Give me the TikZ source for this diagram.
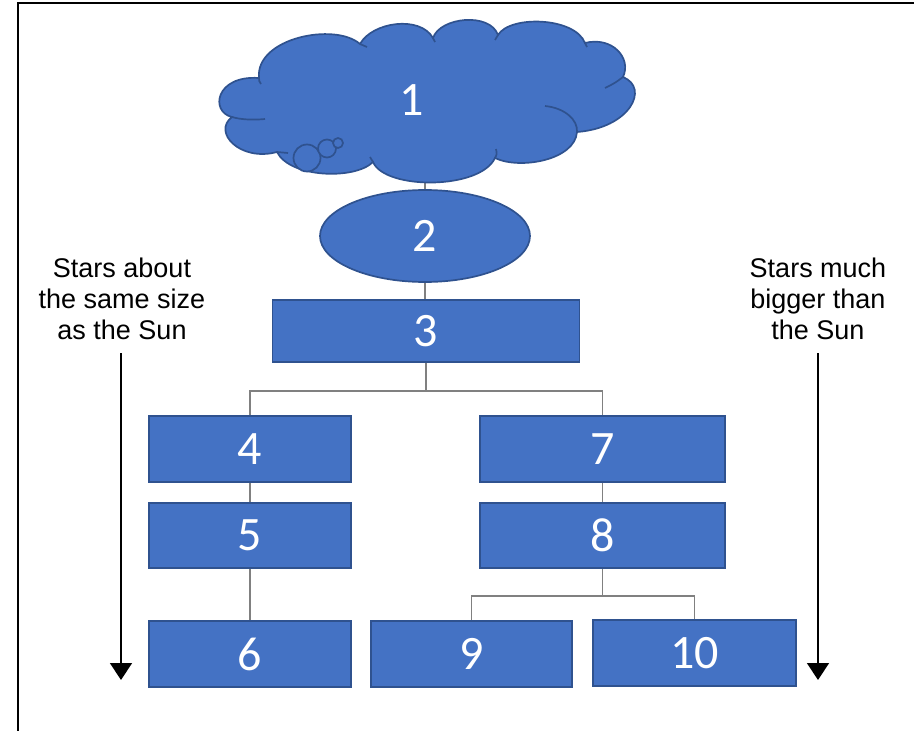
\documentclass[tikz,border=0pt]{standalone}
\usepackage{fontspec}
\setmainfont{Liberation Sans}
\newfontfamily\numfont{Carlito}
\usetikzlibrary{shapes.geometric,arrows.meta,calc}
\definecolor{boxblue}{HTML}{4472C4}
\definecolor{boxedge}{HTML}{2F528F}
\definecolor{conngray}{HTML}{808080}
\tikzset{
  shapestyle/.style={draw=boxedge, fill=boxblue, line width=1.7pt},
  numtext/.style={text=white, font=\numfont\fontsize{48}{50}\selectfont},
  box/.style={shapestyle, numtext, rectangle, minimum height=66pt, inner sep=0pt},
  conn/.style={draw=conngray, line width=1.5pt},
  lbl/.style={align=center, inner sep=0pt, font=\fontsize{27}{31}\selectfont, anchor=north},
  sidearrow/.style={line width=1.5pt, -{Triangle[width=22pt,length=17pt]}},
  cloudline/.style={draw=boxedge, line width=1.7pt},
}
\begin{document}
\begin{tikzpicture}[x=1pt,y=-1pt]
\useasboundingbox (0,0) rectangle (914,731);
% frame
\draw[line width=2.5pt] (18,733) -- (18,3) -- (916,3);

% ellipse 2 and connector from cloud
\node[shapestyle, numtext, ellipse, minimum width=210pt, minimum height=92pt, inner sep=0pt] (e2) at (425,236) {2};
\coordinate (c1b) at (425,178);
\draw[conn] (c1b) -- (e2.north);

% cloud 1
\filldraw[shapestyle]
  (259,78) .. controls (255,38) and (335,22) .. (360,44)
  .. controls (372,22) and (420,15) .. (433,38)
  .. controls (440,17) and (490,12) .. (498,35)
  .. controls (510,15) and (575,17) .. (585,43)
  .. controls (612,36) and (632,58) .. (623,77)
  .. controls (650,88) and (630,128) .. (577,132)
  .. controls (575,160) and (520,170) .. (495,158)
  .. controls (480,190) and (385,190) .. (373,162)
  .. controls (355,180) and (290,178) .. (277,152)
  .. controls (240,162) and (212,132) .. (232,117)
  .. controls (210,112) and (215,75) .. (259,78) -- cycle;
% cloud interior lines
\draw[cloudline] (232,117) .. controls (242,120) and (255,120) .. (265,119);
\draw[cloudline] (623,77) .. controls (615,83) .. (605,88);
\draw[cloudline] (545,106) .. controls (565,108) and (578,120) .. (577,132);
\draw[cloudline] (495,158) .. controls (497,154) .. (496,149);
\draw[cloudline] (373,162) .. controls (371,160) .. (370,157);
\draw[cloudline] (277,152) .. controls (282,153) .. (288,153);
\draw[cloudline] (259,78) .. controls (259,81) .. (261,84);
\draw[cloudline] (360,44) .. controls (363,45) .. (367,47);
\draw[cloudline] (433,38) .. controls (434,40) .. (435,42);
\draw[cloudline] (498,35) .. controls (497,37) .. (495,40);
\draw[cloudline] (585,43) .. controls (586,45) .. (587,47);
\filldraw[shapestyle] (307,158) circle[radius=13.5pt];
\filldraw[shapestyle] (327,148.5) circle[radius=9pt];
\filldraw[shapestyle] (338,143) circle[radius=5pt];
\node[numtext, inner sep=0pt] (n1) at (412,100) {1};

% boxes
\node[box, minimum width=307pt, minimum height=62pt] (b3) at (426,331) {3};
\node[box, minimum width=202pt] (b4) at (250,449) {4};
\node[box, minimum width=202pt, minimum height=65pt] (b5) at (250,535.5) {5};
\node[box, minimum width=202pt] (b6) at (250,654) {6};
\node[box, minimum width=245pt] (b7) at (602.5,449) {7};
\node[box, minimum width=245pt, minimum height=65pt] (b8) at (602.5,535.5) {8};
\node[box, minimum width=201pt] (b9) at (471.5,654) {9};
\node[box, minimum width=203pt] (b10) at (694.5,653) {10};

% connectors
\draw[conn] (e2.south) -- (e2.south |- b3.north);
\draw[conn] (b3.south) -- ++(0,28) -| (b4.north);
\draw[conn] (b3.south) -- ++(0,28) -| (b7.north);
\draw[conn] (b4.south) -- (b5.north);
\draw[conn] (b5.south) -- (b6.north);
\draw[conn] (b7.south) -- (b8.north);
\draw[conn] (b8.south) -- ++(0,27) -| (b9.north);
\draw[conn] (b8.south) -- ++(0,27) -| (b10.north);

% side labels and arrows
\node[lbl] (tl) at (122,257.5) {Stars about\\the same size\\as the Sun};
\node[lbl] (tr) at (818,257.5) {Stars much\\bigger than\\the Sun};
\coordinate (la0) at (121,353);
\coordinate (la1) at (121,680);
\coordinate (ra0) at (818,353);
\coordinate (ra1) at (818,680);
\draw[sidearrow] (la0) -- (la1);
\draw[sidearrow] (ra0) -- (ra1);
\end{tikzpicture}
\end{document}
